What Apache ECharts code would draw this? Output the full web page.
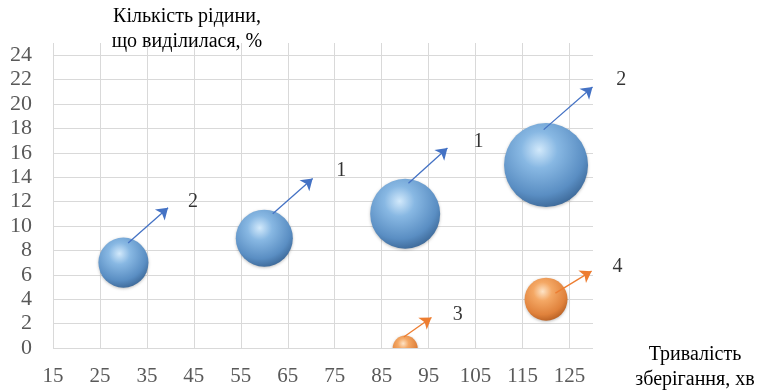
<!DOCTYPE html>
<html>
<head>
<meta charset="utf-8">
<script src="https://cdn.jsdelivr.net/npm/echarts@6/dist/echarts.min.js"></script>
<style>
  html, body { margin: 0; padding: 0; background: #fff; }
  #chart { width: 760px; height: 391px; }
</style>
</head>
<body>
<div id="chart"></div>
<script>
// дані
const blueX = [30, 60, 90, 120];
const blueY = [7, 9, 11, 15];
const blueSize = [17.4, 22.6, 34, 49];
const orangeX = [90, 120];
const orangeY = [0, 4];
const orangeSize = [4.3, 12.8];

// стрілки: [x1, y1, x2, y2]
const blueArrows = [
    [31, 8.6, 39.5, 11.5],
    [61.8, 11, 70.3, 13.9],
    [90.7, 13.5, 99, 16.4],
    [119.5, 17.9, 129.9, 21.4]
];
const orangeArrows = [
    [89.7, 0.9, 95.6, 2.5],
    [122, 4.5, 129.7, 6.3]
];
// підписи: [x, y, текст]
const labels = [
    [44.8, 12, "2"],
    [76.4, 14.5, "1"],
    [105.6, 16.9, "1"],
    [136, 22, "2"],
    [101.2, 2.7, "3"],
    [135.2, 6.7, "4"]
];

const serif = "Liberation Serif";

let sphere = function (c0, c1, c2, c3) {
    return {
        type: "radial", x: 0.42, y: 0.32, r: 0.72,
        colorStops: [
            { offset: 0, color: c0 },
            { offset: 0.3, color: c1 },
            { offset: 0.75, color: c2 },
            { offset: 1, color: c3 }
        ]
    };
};

let zip = function (xs, ys, ss) {
    return xs.map((x, i) => [x, ys[i], ss[i]]);
};

let arrows = function (list) {
    return list.map(a => ({ coords: [[a[0], a[1]], [a[2], a[3]]] }));
};

// куля (custom, щоб обрізалась по області графіка)
let bubbles = function (data, fill) {
    return {
        type: "custom",
        clip: true,
        data: data,
        renderItem: function (params, api) {
            let p = api.coord([api.value(0), api.value(1)]);
            let r = 6 * Math.sqrt(api.value(2));
            return {
                type: "circle",
                shape: { cx: p[0], cy: p[1], r: r },
                style: { fill: fill, shadowBlur: 3, shadowColor: "rgba(0,0,0,0.25)", shadowOffsetY: 1 }
            };
        },
        z: 2
    };
};

let chart = echarts.init(document.getElementById("chart"));
chart.setOption({
    animation: false,
    title: [{
        text: "Кількість рідини,\nщо виділилася, %",
        left: 187, top: 4, padding: 0,
        textAlign: "center",
        textStyle: { fontFamily: serif, fontSize: 20, fontWeight: "normal", color: "#000", lineHeight: 25 }
    }, {
        text: "Тривалість\nзберігання, хв",
        left: 695, top: 342, padding: 0,
        textAlign: "center",
        textStyle: { fontFamily: serif, fontSize: 20, fontWeight: "normal", color: "#000", lineHeight: 25 }
    }],
    grid: { left: 53, right: 167, top: 43, bottom: 43, containLabel: false },
    xAxis: {
        type: "value", min: 15, max: 130, interval: 10,
        axisLine: { show: false },
        axisTick: { show: false },
        axisLabel: { showMaxLabel: false, margin: 18, fontFamily: serif, fontSize: 21, color: "#595959" },
        splitLine: { show: true, showMaxLine: false, lineStyle: { color: "#d9d9d9", width: 1 } }
    },
    yAxis: {
        type: "value", min: 0, max: 25, interval: 2,
        axisLine: { show: false },
        axisTick: { show: false },
        axisLabel: { showMaxLabel: false, margin: 21, fontFamily: serif, fontSize: 22, color: "#595959" },
        splitLine: { show: true, showMaxLine: false, lineStyle: { color: "#d9d9d9", width: 1 } }
    },
    series: [
        bubbles(zip(blueX, blueY, blueSize), sphere("#d2e9fb", "#88b8e3", "#5a8ec3", "#3a6594")),
        bubbles(zip(orangeX, orangeY, orangeSize), sphere("#fde3c6", "#f4a865", "#e0823c", "#b55e22")),
    {
        type: "lines",
        coordinateSystem: "cartesian2d",
        clip: false,
        symbol: ["none", "arrow"],
        symbolSize: 11,
        lineStyle: { color: "#4472c4", width: 1.3, opacity: 1 },
        data: arrows(blueArrows),
        z: 3
    }, {
        type: "lines",
        coordinateSystem: "cartesian2d",
        clip: false,
        symbol: ["none", "arrow"],
        symbolSize: 11,
        lineStyle: { color: "#ed7d31", width: 1.3, opacity: 1 },
        data: arrows(orangeArrows),
        z: 3
    }, {
        type: "scatter",
        clip: false,
        symbolSize: 0,
        data: labels.map(l => [l[0], l[1], l[2]]),
        label: {
            show: true, position: "inside",
            formatter: p => p.data[2],
            fontFamily: serif, fontSize: 20, color: "#000"
        },
        z: 4
    }]
});
</script>
</body>
</html>
